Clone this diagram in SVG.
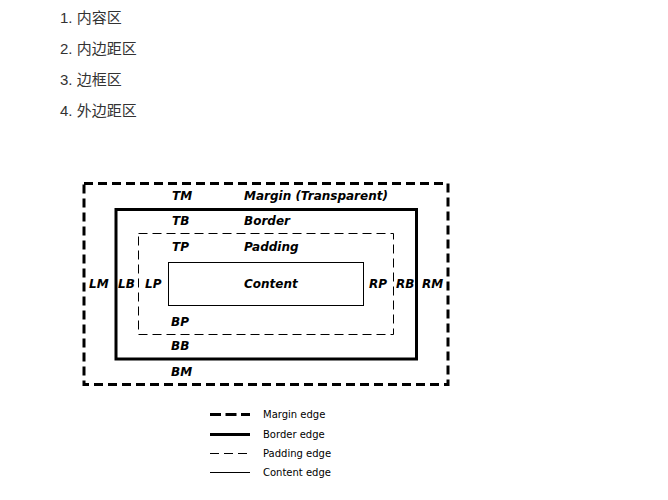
<svg xmlns="http://www.w3.org/2000/svg" width="668" height="500" viewBox="0 0 668 500">
<style>
.li{font-family:"Liberation Sans","Noto Sans CJK SC",sans-serif;font-size:15px;fill:#333}
.lb{font-family:"DejaVu Sans",Verdana,sans-serif;font-size:12px;font-weight:bold;font-style:italic;fill:#000}
.lg{font-family:"DejaVu Sans",Verdana,sans-serif;font-size:10px;fill:#000}
.margin{fill:none;stroke:#000;stroke-width:3;stroke-dasharray:9,5}
.lmargin{fill:none;stroke:#000;stroke-width:3;stroke-dasharray:11,4.5}
.border{fill:none;stroke:#000;stroke-width:3}
.padding{fill:none;stroke:#000;stroke-width:1;stroke-dasharray:9,5}
.content{fill:none;stroke:#000;stroke-width:1}
</style>
<rect width="668" height="500" fill="#fff"/>
<g id="list">
<text class="li" x="60" y="23">1. 内容区</text>
<text class="li" x="60" y="54">2. 内边距区</text>
<text class="li" x="60" y="85">3. 边框区</text>
<text class="li" x="60" y="116">4. 外边距区</text>
</g>
<g id="margin-box">
<rect class="margin" x="84" y="183.5" width="364" height="201"/>
<text class="lb" x="172" y="200">TM</text>
<text class="lb" x="244" y="200">Margin (Transparent)</text>
<text class="lb" x="89" y="288">LM</text>
<text class="lb" x="422" y="288">RM</text>
<text class="lb" x="171" y="376">BM</text>
</g>
<g id="border-box">
<rect class="border" x="116" y="209.5" width="300.5" height="149.5"/>
<text class="lb" x="172" y="225">TB</text>
<text class="lb" x="244" y="225">Border</text>
<text class="lb" x="118" y="288">LB</text>
<text class="lb" x="396" y="288">RB</text>
<text class="lb" x="171" y="350">BB</text>
</g>
<g id="padding-box">
<rect class="padding" x="138.5" y="233.5" width="255" height="101"/>
<text class="lb" x="172" y="251">TP</text>
<text class="lb" x="244" y="251">Padding</text>
<text class="lb" x="145" y="288">LP</text>
<text class="lb" x="369" y="288">RP</text>
<text class="lb" x="171" y="326">BP</text>
</g>
<g id="content-box">
<rect class="content" x="168.5" y="262.5" width="195" height="43"/>
<text class="lb" x="244" y="288">Content</text>
</g>
<g id="legend">
<line class="lmargin" x1="210" y1="414.5" x2="250" y2="414.5"/>
<text class="lg" x="263" y="418">Margin edge</text>
<line class="border" x1="210" y1="434.5" x2="250" y2="434.5"/>
<text class="lg" x="263" y="438">Border edge</text>
<line class="padding" x1="210" y1="453.5" x2="250" y2="453.5"/>
<text class="lg" x="263" y="457">Padding edge</text>
<line class="content" x1="210" y1="472.5" x2="250" y2="472.5"/>
<text class="lg" x="263" y="476">Content edge</text>
</g>
</svg>
